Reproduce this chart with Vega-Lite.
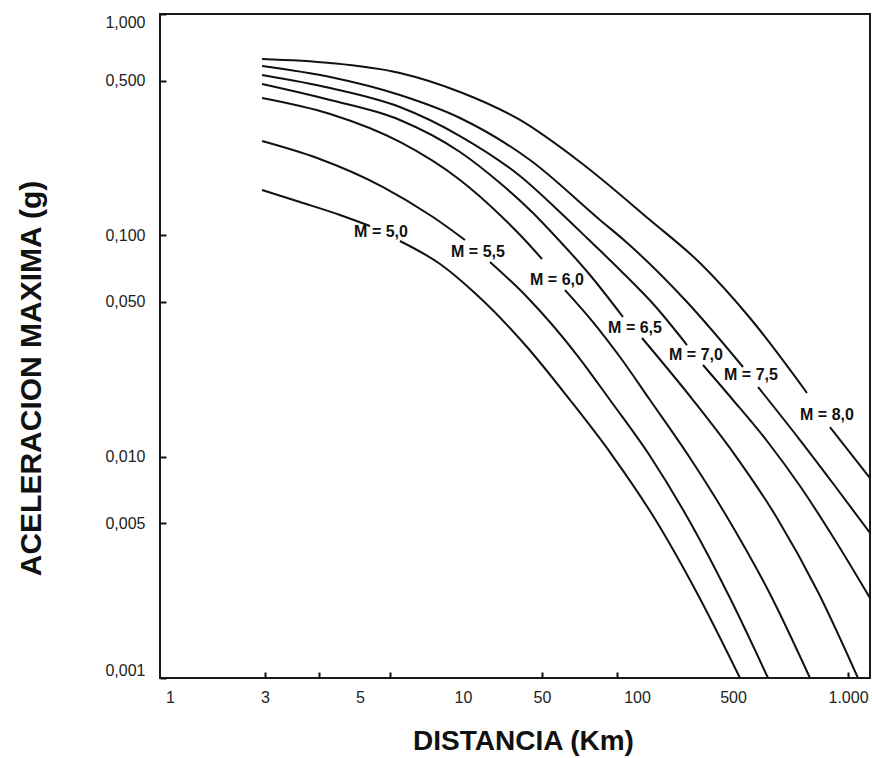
{
  "$schema": "https://vega.github.io/schema/vega-lite/v6.json",
  "width": 710,
  "height": 664,
  "autosize": {"type": "none"},
  "padding": {"left": 160, "top": 14, "right": 2, "bottom": 80},
  "background": "white",
  "config": {"view": {"stroke": "#1a1a1a", "strokeWidth": 2}, "font": "Liberation Sans"},
  "datasets": {
    "curves": [
      {"M": "8,0", "seg": 1, "d": 2.9, "a": 0.6262},
      {"M": "8,0", "seg": 1, "d": 4.26, "a": 0.6006},
      {"M": "8,0", "seg": 1, "d": 6.54, "a": 0.5412},
      {"M": "8,0", "seg": 1, "d": 9.8, "a": 0.4442},
      {"M": "8,0", "seg": 1, "d": 31.94, "a": 0.332},
      {"M": "8,0", "seg": 1, "d": 65.98, "a": 0.2145},
      {"M": "8,0", "seg": 1, "d": 124.35, "a": 0.1173},
      {"M": "8,0", "seg": 1, "d": 287.5, "a": 0.07499},
      {"M": "8,0", "seg": 1, "d": 553.9, "a": 0.04231},
      {"M": "8,0", "seg": 1, "d": 781, "a": 0.0194},
      {"M": "8,0", "seg": 2, "d": 897, "a": 0.01361},
      {"M": "8,0", "seg": 2, "d": 1141.8, "a": 0.008009},

      {"M": "7,5", "seg": 1, "d": 2.9, "a": 0.5823},
      {"M": "7,5", "seg": 1, "d": 4.26, "a": 0.5193},
      {"M": "7,5", "seg": 1, "d": 6.54, "a": 0.4305},
      {"M": "7,5", "seg": 1, "d": 9.8, "a": 0.3389},
      {"M": "7,5", "seg": 1, "d": 39.15, "a": 0.219},
      {"M": "7,5", "seg": 1, "d": 76.34, "a": 0.1173},
      {"M": "7,5", "seg": 1, "d": 91.62, "a": 0.09428},
      {"M": "7,5", "seg": 1, "d": 231.2, "a": 0.04998},
      {"M": "7,5", "seg": 1, "d": 531.1, "a": 0.02542},
      {"M": "7,5", "seg": 2, "d": 581.3, "a": 0.02064},
      {"M": "7,5", "seg": 2, "d": 748.7, "a": 0.01189},
      {"M": "7,5", "seg": 2, "d": 924.5, "a": 0.00737},
      {"M": "7,5", "seg": 2, "d": 1141.8, "a": 0.00452},

      {"M": "7,0", "seg": 1, "d": 2.9, "a": 0.5302},
      {"M": "7,0", "seg": 1, "d": 4.26, "a": 0.4631},
      {"M": "7,0", "seg": 1, "d": 6.54, "a": 0.38},
      {"M": "7,0", "seg": 1, "d": 9.8, "a": 0.281},
      {"M": "7,0", "seg": 1, "d": 31.94, "a": 0.1854},
      {"M": "7,0", "seg": 1, "d": 58.28, "a": 0.1236},
      {"M": "7,0", "seg": 1, "d": 69.94, "a": 0.09625},
      {"M": "7,0", "seg": 1, "d": 88.33, "a": 0.06972},
      {"M": "7,0", "seg": 1, "d": 135.23, "a": 0.04794},
      {"M": "7,0", "seg": 1, "d": 231.2, "a": 0.03195},
      {"M": "7,0", "seg": 2, "d": 302.4, "a": 0.02595},
      {"M": "7,0", "seg": 2, "d": 500, "a": 0.01803},
      {"M": "7,0", "seg": 2, "d": 613.7, "a": 0.01177},
      {"M": "7,0", "seg": 2, "d": 748.7, "a": 0.00737},
      {"M": "7,0", "seg": 2, "d": 924.5, "a": 0.004202},
      {"M": "7,0", "seg": 2, "d": 1141.8, "a": 0.002298},

      {"M": "6,5", "seg": 1, "d": 2.9, "a": 0.4828},
      {"M": "6,5", "seg": 1, "d": 4.26, "a": 0.4087},
      {"M": "6,5", "seg": 1, "d": 6.54, "a": 0.332},
      {"M": "6,5", "seg": 1, "d": 9.8, "a": 0.238},
      {"M": "6,5", "seg": 1, "d": 21.25, "a": 0.1723},
      {"M": "6,5", "seg": 1, "d": 40.78, "a": 0.1274},
      {"M": "6,5", "seg": 1, "d": 54.98, "a": 0.09931},
      {"M": "6,5", "seg": 1, "d": 70.96, "a": 0.06619},
      {"M": "6,5", "seg": 1, "d": 90.29, "a": 0.04276},
      {"M": "6,5", "seg": 2, "d": 108.74, "a": 0.03437},
      {"M": "6,5", "seg": 2, "d": 255.7, "a": 0.01803},
      {"M": "6,5", "seg": 2, "d": 506.1, "a": 0.01017},
      {"M": "6,5", "seg": 2, "d": 651.9, "a": 0.005284},
      {"M": "6,5", "seg": 2, "d": 834.6, "a": 0.002446},
      {"M": "6,5", "seg": 2, "d": 1062, "a": 0.001},

      {"M": "6,0", "seg": 1, "d": 2.9, "a": 0.4173},
      {"M": "6,0", "seg": 1, "d": 4.26, "a": 0.3533},
      {"M": "6,0", "seg": 1, "d": 6.54, "a": 0.2641},
      {"M": "6,0", "seg": 1, "d": 9.8, "a": 0.1778},
      {"M": "6,0", "seg": 1, "d": 21.25, "a": 0.1236},
      {"M": "6,0", "seg": 1, "d": 33.95, "a": 0.09725},
      {"M": "6,0", "seg": 1, "d": 50, "a": 0.07818},
      {"M": "6,0", "seg": 2, "d": 59.13, "a": 0.05662},
      {"M": "6,0", "seg": 2, "d": 72.54, "a": 0.04058},
      {"M": "6,0", "seg": 2, "d": 88.33, "a": 0.0282},
      {"M": "6,0", "seg": 2, "d": 124.35, "a": 0.01803},
      {"M": "6,0", "seg": 2, "d": 243.2, "a": 0.009863},
      {"M": "6,0", "seg": 2, "d": 475.5, "a": 0.005068},
      {"M": "6,0", "seg": 2, "d": 625, "a": 0.002396},
      {"M": "6,0", "seg": 2, "d": 795.2, "a": 0.001},

      {"M": "5,5", "seg": 1, "d": 2.9, "a": 0.2668},
      {"M": "5,5", "seg": 1, "d": 3.97, "a": 0.2236},
      {"M": "5,5", "seg": 1, "d": 5.84, "a": 0.1653},
      {"M": "5,5", "seg": 1, "d": 8.17, "a": 0.121},
      {"M": "5,5", "seg": 1, "d": 10.42, "a": 0.09526},
      {"M": "5,5", "seg": 2, "d": 17.33, "a": 0.07577},
      {"M": "5,5", "seg": 2, "d": 36.83, "a": 0.05265},
      {"M": "5,5", "seg": 2, "d": 64.54, "a": 0.02879},
      {"M": "5,5", "seg": 2, "d": 82.12, "a": 0.01803},
      {"M": "5,5", "seg": 2, "d": 124.35, "a": 0.01007},
      {"M": "5,5", "seg": 2, "d": 243.2, "a": 0.005068},
      {"M": "5,5", "seg": 2, "d": 475.5, "a": 0.002298},
      {"M": "5,5", "seg": 2, "d": 617.5, "a": 0.001},

      {"M": "5,0", "seg": 1, "d": 2.9, "a": 0.1602},
      {"M": "5,0", "seg": 1, "d": 3.62, "a": 0.1414},
      {"M": "5,0", "seg": 1, "d": 4.49, "a": 0.1236},
      {"M": "5,0", "seg": 1, "d": 5.35, "a": 0.1102},
      {"M": "5,0", "seg": 2, "d": 6.54, "a": 0.09428},
      {"M": "5,0", "seg": 2, "d": 8.57, "a": 0.07421},
      {"M": "5,0", "seg": 2, "d": 13.3, "a": 0.05375},
      {"M": "5,0", "seg": 2, "d": 36.83, "a": 0.0313},
      {"M": "5,0", "seg": 2, "d": 61.34, "a": 0.01803},
      {"M": "5,0", "seg": 2, "d": 83.33, "a": 0.01017},
      {"M": "5,0", "seg": 2, "d": 135.23, "a": 0.005227},
      {"M": "5,0", "seg": 2, "d": 273.4, "a": 0.002421},
      {"M": "5,0", "seg": 2, "d": 521.5, "a": 0.001}
    ],
    "labels": [
      {"label": "M = 5,0", "d": 5.76, "a": 0.1035},
      {"label": "M = 5,5", "d": 13.57, "a": 0.08409},
      {"label": "M = 6,0", "d": 55.78, "a": 0.06284},
      {"label": "M = 6,5", "d": 98.56, "a": 0.03814},
      {"label": "M = 7,0", "d": 268.9, "a": 0.02879},
      {"label": "M = 7,5", "d": 557.3, "a": 0.02338},
      {"label": "M = 8,0", "d": 881.1, "a": 0.01543}
    ]
  },
  "layer": [
    {
      "data": {"name": "curves"},
      "mark": {"type": "line", "interpolate": "monotone", "color": "#111111", "strokeWidth": 2, "clip": true},
      "encoding": {
        "x": {
          "field": "d",
          "type": "quantitative",
          "scale": {"type": "log", "domain": [1, 3, 5, 10, 50, 100, 500, 1000], "range": [10, 105, 200, 303, 382, 477, 573, 688], "nice": false},
          "axis": {
            "values": [1, 3, 4, 5, 6.1, 10, 50, 86.4, 100, 500, 1000],
            "labelExpr": "datum.value == 1000 ? '1.000' : (indexof([4, 6.1, 86.4], datum.value) >= 0 ? '' : format(datum.value, 'd'))",
            "domain": false,
            "grid": false,
            "tickSize": -6,
            "tickWidth": 2,
            "tickColor": "#111111",
            "tickOpacity": {"condition": {"test": "indexof([3, 4, 6.1, 50, 86.4, 1000], datum.value) >= 0", "value": 1}, "value": 0},
            "labelFontSize": 16,
            "labelColor": "#222222",
            "labelPadding": 17,
            "labelBaseline": "top",
            "labelFlush": false,
            "labelOverlap": false,
            "labelBound": false,
            "title": "DISTANCIA (Km)",
            "titleFontSize": 28,
            "titleFontWeight": "bold",
            "titleColor": "#111111",
            "titleX": 363,
            "titleY": 63,
            "titleAlign": "center",
            "titleBaseline": "middle"
          }
        },
        "y": {
          "field": "a",
          "type": "quantitative",
          "scale": {"type": "log", "domain": [0.001, 1], "nice": false},
          "axis": {
            "values": [0.001, 0.005, 0.01, 0.05, 0.1, 0.5, 1],
            "labelExpr": "replace(format(datum.value, '.3f'), '.', ',')",
            "domain": false,
            "grid": false,
            "tickSize": -6,
            "tickWidth": 2,
            "tickColor": "#111111",
            "labelFontSize": 16,
            "labelColor": "#222222",
            "labelPadding": 21,
            "labelFlush": true,
            "labelOverlap": false,
            "title": "ACELERACION MAXIMA (g)",
            "titleFontSize": 30,
            "titleFontWeight": "bold",
            "titleColor": "#111111",
            "titleAngle": 270,
            "titleX": -129,
            "titleY": 364,
            "titleAlign": "center",
            "titleBaseline": "middle"
          }
        },
        "detail": [{"field": "M"}, {"field": "seg"}]
      }
    },
    {
      "data": {"name": "labels"},
      "mark": {"type": "text", "fontSize": 16, "fontWeight": "bold", "color": "#111111", "align": "center", "baseline": "middle"},
      "encoding": {
        "x": {"field": "d", "type": "quantitative", "scale": {"type": "log", "domain": [1, 3, 5, 10, 50, 100, 500, 1000], "range": [10, 105, 200, 303, 382, 477, 573, 688], "nice": false}},
        "y": {"field": "a", "type": "quantitative", "scale": {"type": "log", "domain": [0.001, 1], "nice": false}},
        "text": {"field": "label"}
      }
    }
  ]
}
